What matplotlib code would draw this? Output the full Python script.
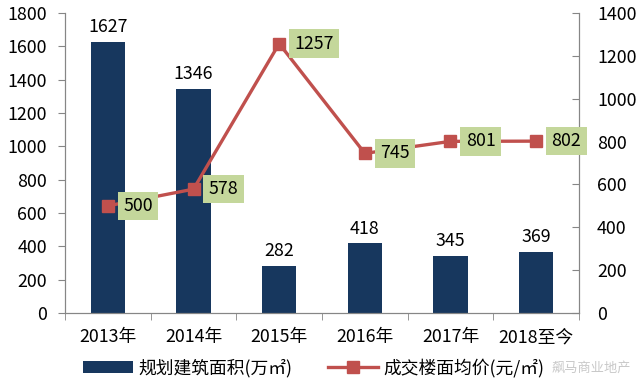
import matplotlib
matplotlib.use('Agg')
import matplotlib.pyplot as plt
import numpy as np

plt.rcParams['font.family'] = ['Noto Sans CJK SC', 'DejaVu Sans']

years = ['2013年', '2014年', '2015年', '2016年', '2017年', '2018至今']
area = [1627, 1346, 282, 418, 345, 369]
price = [500, 578, 1257, 745, 801, 802]
area_name = '规划建筑面积(万㎡)'
price_name = '成交楼面均价(元/㎡)'

bar_c = '#17375e'
line_c = '#c0504d'
box_c = '#c4d79b'
axis_c = '#868686'
fs = 12.8

fig = plt.figure(figsize=(6.4, 3.81), dpi=100)
ax = fig.add_axes([65/640, 1-313/381, (579-65)/640, 300/381])
ax2 = ax.twinx()

x = np.arange(len(years))
bars = ax.bar(x, area, width=0.4, color=bar_c, label=area_name, zorder=2)
for xi, v in zip(x, area):
    ax.annotate(str(v), (xi, v), xytext=(0, 4), textcoords='offset points',
                ha='center', va='bottom', fontsize=fs)

ln, = ax2.plot(x, price, color=line_c, lw=2.4, marker='s', markersize=9,
               label=price_name, zorder=3)
for xi, v in zip(x, price):
    ax2.annotate(str(v), (xi, v), xytext=(11, 0), textcoords='offset points',
                 ha='left', va='center', fontsize=fs,
                 bbox=dict(boxstyle='square,pad=0.3', fc=box_c, ec='none'))

ax.set_xlim(-0.5, len(years)-0.5)
ax.set_ylim(0, 1800)
ax.set_yticks(range(0, 1801, 200))
ax2.set_ylim(0, 1400)
ax2.set_yticks(range(0, 1401, 200))

ax.set_xticks(x)
ax.set_xticklabels(years, fontsize=fs)
ax.set_xticks(np.arange(-0.5, len(years), 1), minor=True)
ax.tick_params(axis='x', which='major', length=0, pad=11)
ax.tick_params(axis='x', which='minor', length=5, color=axis_c)
ax.tick_params(axis='y', labelsize=fs, length=5, color=axis_c, pad=8)
ax2.tick_params(axis='y', labelsize=fs, length=5, color=axis_c, direction='in', pad=13)

for a in (ax, ax2):
    a.spines['top'].set_visible(False)
    for s in ('left', 'right', 'bottom'):
        a.spines[s].set_color(axis_c)
ax.set_zorder(ax2.get_zorder() - 1)
ax2.patch.set_visible(False)

fig.legend([bars, ln], [area_name, price_name], loc='center', ncol=2,
           bbox_to_anchor=(0.49, 13/381), frameon=False, fontsize=fs,
           handlelength=2.8, columnspacing=2.0, handletextpad=0.3)

# faint watermark
fig.text(552/640, 13/381, '飙马商业地产', ha='left', va='center',
         fontsize=9.5, color='#bbbbbb', alpha=0.8)

plt.savefig('out.png', dpi=100)
